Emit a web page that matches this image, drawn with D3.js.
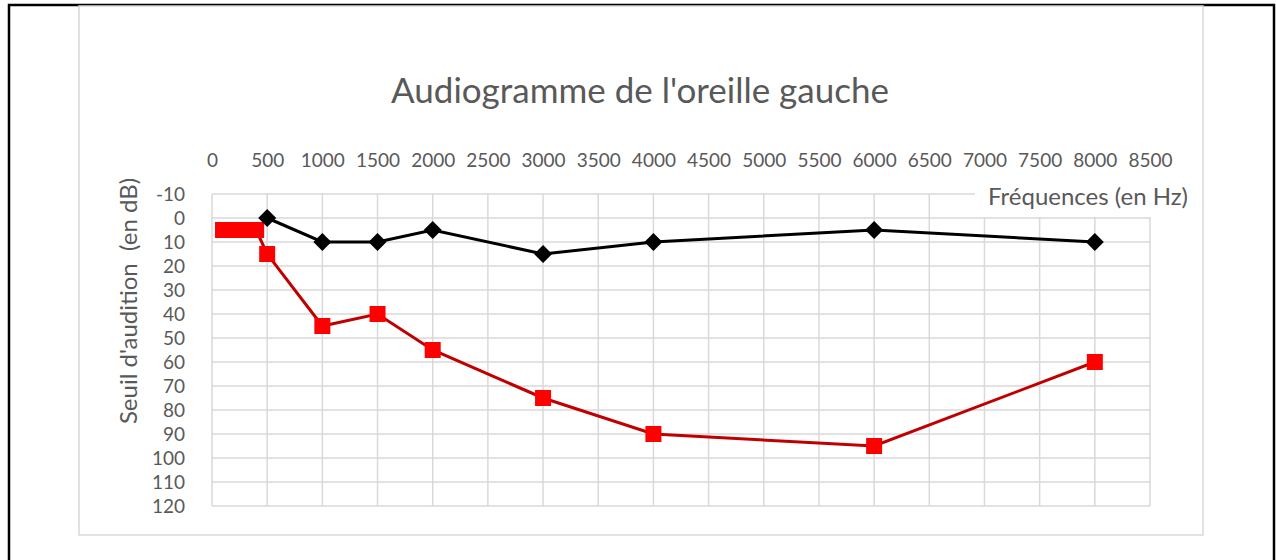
<!DOCTYPE html>
<html>
<head>
<meta charset="utf-8">
<script src="https://cdn.jsdelivr.net/npm/d3@7"></script>
<style>
  html, body { margin: 0; padding: 0; background: #fff; }
  text { font-family: "Lato", "Open Sans", sans-serif; fill: #595959; white-space: pre; }
</style>
</head>
<body>
<div id="chart"></div>
<script>
// frequences (Hz) et seuils (dB)
const freqNormale = [500, 1000, 1500, 2000, 3000, 4000, 6000, 8000];
const seuilNormal = [0, 10, 10, 5, 15, 10, 5, 10];

const freqGauche = [100, 200, 300, 400, 500, 1000, 1500, 2000, 3000, 4000, 6000, 8000];
const seuilGauche = [5, 5, 5, 5, 15, 45, 40, 55, 75, 90, 95, 60];

const xTicks = d3.range(0, 8501, 500);
const yTicks = d3.range(-10, 121, 10);

const titre = "Audiogramme de l'oreille gauche";
const titreX = "Fréquences (en Hz)";
const titreY = "Seuil d'audition  (en dB)";

const width = 1276, height = 560;
const svg = d3.select("#chart").append("svg")
  .attr("width", width).attr("height", height);

// cadre noir exterieur
svg.append("path")
  .attr("d", "M9,560 V5 H1274 V560")
  .attr("fill", "none").attr("stroke", "#000").attr("stroke-width", 2.5);

// zone du graphique
svg.append("rect")
  .attr("x", 79).attr("y", 6).attr("width", 1124).attr("height", 529)
  .attr("fill", "#fff").attr("stroke", "#d9d9d9").attr("stroke-width", 1.5);

const margin = { left: 212, top: 194, right: 1150, bottom: 506 };

const x = d3.scaleLinear().domain([0, 8500]).range([margin.left, margin.right]);
const y = d3.scaleLinear().domain([-10, 120]).range([margin.top, margin.bottom]);

// grille
const grid = svg.append("g");
grid.selectAll(".gx").data(xTicks).enter().append("line")
  .attr("x1", d => x(d)).attr("x2", d => x(d))
  .attr("y1", margin.top).attr("y2", margin.bottom)
  .attr("stroke", "#d9d9d9").attr("stroke-width", 1.5);
grid.selectAll(".gy").data(yTicks).enter().append("line")
  .attr("x1", margin.left).attr("x2", margin.right)
  .attr("y1", d => y(d)).attr("y2", d => y(d))
  .attr("stroke", "#d9d9d9").attr("stroke-width", 1.5);

// axes (texte seulement)
const axeX = svg.append("g")
  .attr("transform", `translate(0,${margin.top - 24})`)
  .call(d3.axisTop(x).tickValues(xTicks).tickFormat(d3.format("d")).tickSize(0));
axeX.select(".domain").remove();
axeX.selectAll("text").attr("font-size", 19).attr("fill", "#595959")
  .style("font-family", "Lato, 'Open Sans', sans-serif");

const axeY = svg.append("g")
  .attr("transform", `translate(${margin.left - 24},0)`)
  .call(d3.axisLeft(y).tickValues(yTicks).tickFormat(d => d < 0 ? "-" + Math.abs(d) : d).tickSize(0));
axeY.select(".domain").remove();
axeY.selectAll("text").attr("font-size", 19).attr("fill", "#595959")
  .attr("dy", "0.35em")
  .style("font-family", "Lato, 'Open Sans', sans-serif");

// titre
svg.append("text")
  .attr("x", 640).attr("y", 103)
  .attr("text-anchor", "middle")
  .attr("font-size", 35)
  .text(titre);

// titre axe X avec fond blanc
const tx = svg.append("g");
tx.append("rect").attr("x", 975).attr("y", 180).attr("width", 218).attr("height", 37).attr("fill", "#fff");
tx.append("text")
  .attr("x", 1188).attr("y", 205)
  .attr("text-anchor", "end")
  .attr("font-size", 24)
  .text(titreX);

// titre axe Y
svg.append("text")
  .attr("transform", "translate(137,301) rotate(-90)")
  .attr("text-anchor", "middle")
  .attr("font-size", 24)
  .text(titreY);

const ligne = d3.line().x(d => x(d[0])).y(d => y(d[1]));

// courbe oreille gauche (rouge)
const gauche = freqGauche.map((f, i) => [f, seuilGauche[i]]);
svg.append("path").datum(gauche)
  .attr("d", ligne).attr("fill", "none")
  .attr("stroke", "#c00000").attr("stroke-width", 3);
svg.selectAll(".carre").data(gauche).enter().append("rect")
  .attr("x", d => x(d[0]) - 8).attr("y", d => y(d[1]) - 8)
  .attr("width", 16).attr("height", 16)
  .attr("fill", "#ff0000");

// courbe normale (noire)
const normale = freqNormale.map((f, i) => [f, seuilNormal[i]]);
svg.append("path").datum(normale)
  .attr("d", ligne).attr("fill", "none")
  .attr("stroke", "#000").attr("stroke-width", 3);
svg.selectAll(".losange").data(normale).enter().append("path")
  .attr("d", "M0,-9 L9,0 L0,9 L-9,0 Z")
  .attr("transform", d => `translate(${x(d[0])},${y(d[1])})`)
  .attr("fill", "#000");
</script>
</body>
</html>
